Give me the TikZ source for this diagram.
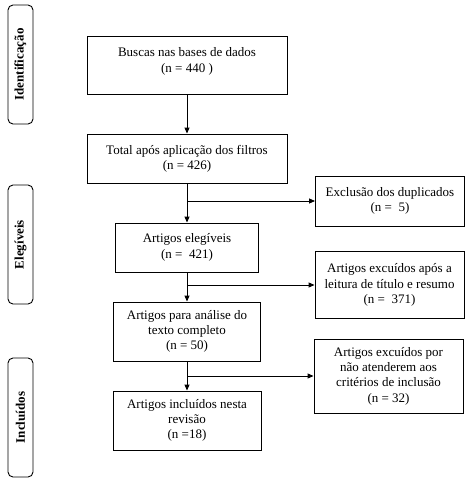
\documentclass[tikz,border=0pt]{standalone}
\usepackage{fontspec}
\setmainfont{Liberation Serif}
\usetikzlibrary{arrows.meta}
\tikzset{
  box/.style={draw=black, line width=0.9pt, rectangle, align=center, inner sep=0pt,
    font=\fontsize{13pt}{15.3pt}\selectfont},
  side/.style={draw=black, line width=0.9pt, rectangle, rounded corners=5pt, inner sep=0pt,
    minimum width=25pt, minimum height=119pt},
  sidetext/.style={rotate=90, font=\fontsize{13pt}{15pt}\selectfont\bfseries, inner sep=0pt},
  conn/.style={line width=0.9pt, draw=black},
  arr/.style={conn, -{Triangle[length=6pt,width=5pt]}}
}
\begin{document}
\begin{tikzpicture}[x=1pt,y=-1pt]
\fill[white] (0,0) rectangle (474,483);
\useasboundingbox (0,0) rectangle (474,483);

% side labels
\node[side] (s1) at (20.5,64.5) {};
\node[sidetext] (t1) at (20.5,64.5) {Identificação};
\node[side] (s2) at (20.5,244.5) {};
\node[sidetext] (t2) at (20.5,244.5) {Elegíveis};
\node[side] (s3) at (20.5,417.5) {};
\node[sidetext] (t3) at (20.5,417.5) {Incluídos};

% main boxes
\node[box, minimum width=200pt, minimum height=58pt] (b1) at (187,65)
  {Buscas nas bases de dados\\(n = 440 )\\[-5pt]~};
\node[box, minimum width=200pt, minimum height=49pt] (b2) at (187,158.5)
  {Total após aplicação dos filtros\\(n = 426)};
\node[box, minimum width=143pt, minimum height=49pt] (b3) at (187,247.5)
  {Artigos elegíveis\\(n = \ 421)};
\node[box, minimum width=147pt, minimum height=59pt] (b4) at (187,331.5)
  {Artigos para análise do\\texto completo\\(n = 50)};
\node[box, minimum width=148pt, minimum height=59pt] (b5) at (187,420.5)
  {Artigos incluídos nesta\\revisão\\(n =18)};

% exclusion boxes
\node[box, minimum width=149pt, minimum height=50pt] (e1) at (390,201)
  {Exclusão dos duplicados\\(n = \ 5)};
\node[box, minimum width=149pt, minimum height=67pt] (e2) at (389.5,285)
  {Artigos excuídos após a\\leitura de título e resumo\\(n = \ 371)};
\node[box, minimum width=149pt, minimum height=74pt] (e3) at (388.5,376)
  {Artigos excuídos por\\não atenderem aos\\critérios de inclusão\\(n = 32)};

% connectors
\coordinate (j1) at (187,201);
\coordinate (j2) at (187,285);
\coordinate (j3) at (187,376);

\draw[arr] (b1.south) -- (b2.north);
\draw[arr] (b2.south) -- (b3.north);
\draw[arr] (j1) -- (e1.west);
\draw[arr] (b3.south) -- (b4.north);
\draw[arr] (j2) -- (e2.west);
\draw[arr] (b4.south) -- (b5.north);
\draw[arr] (j3) -- (e3.west);
\end{tikzpicture}
\end{document}
